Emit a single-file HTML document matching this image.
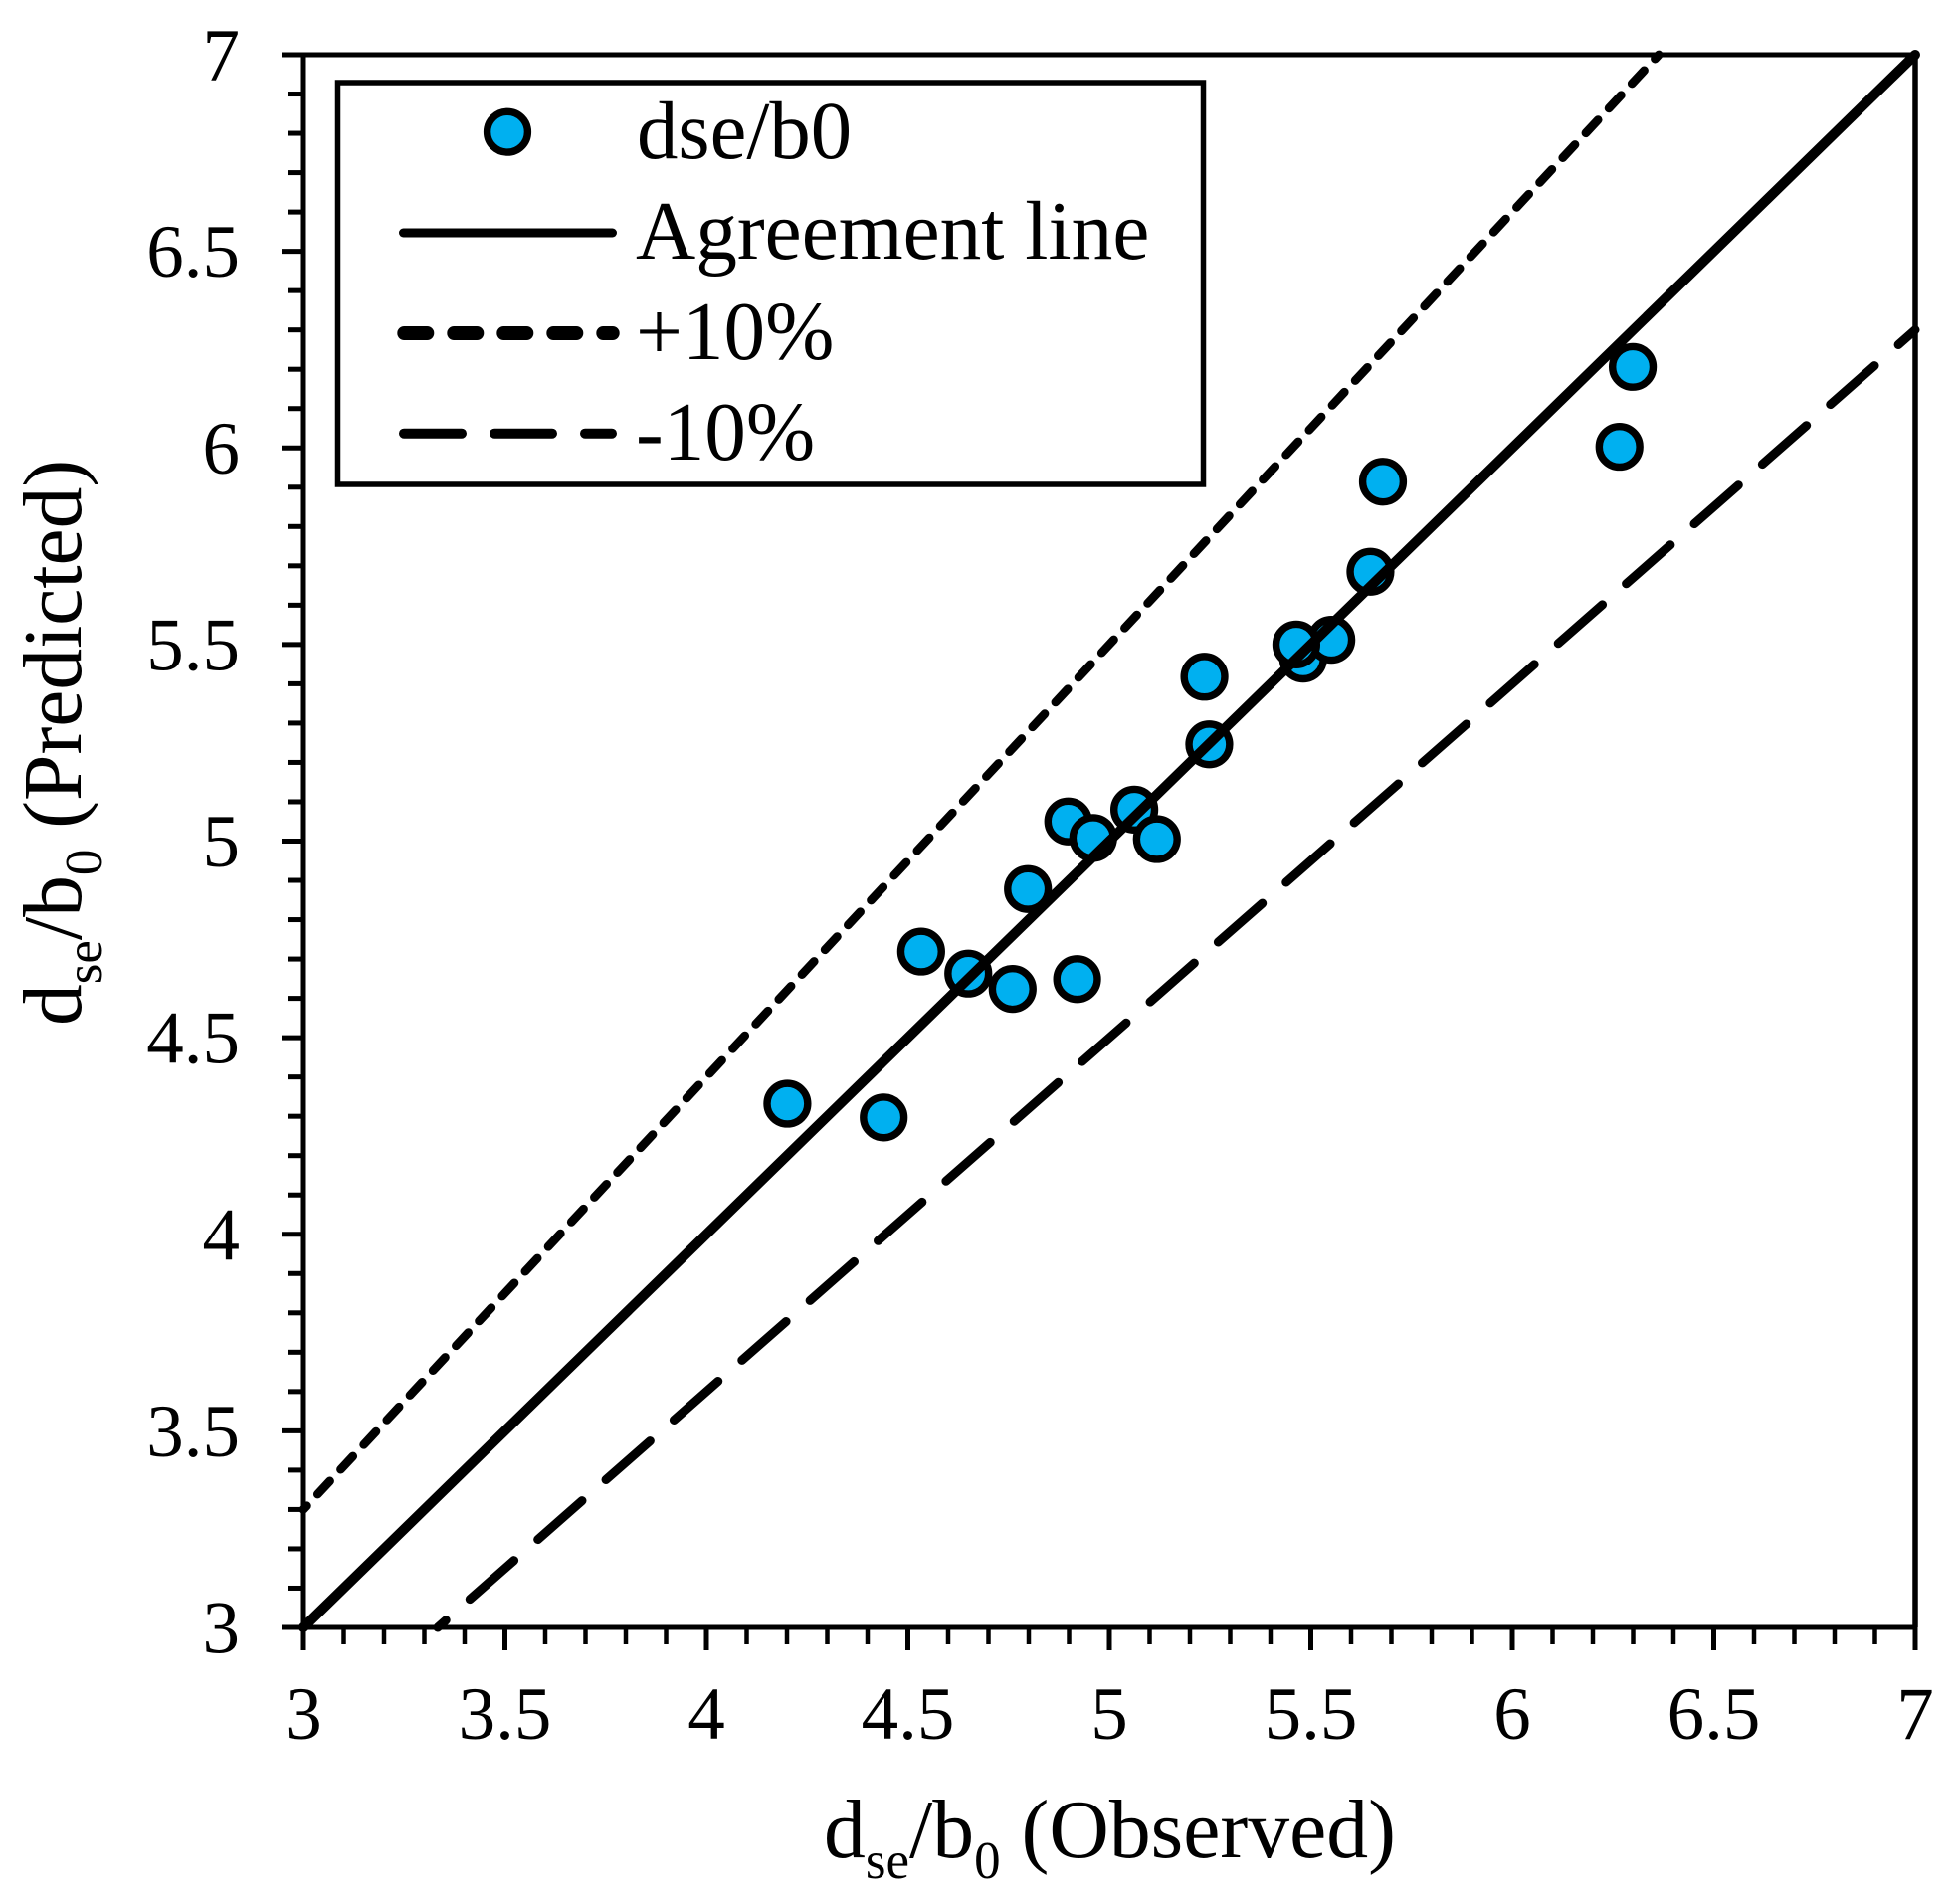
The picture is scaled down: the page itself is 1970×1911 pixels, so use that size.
<!DOCTYPE html>
<html lang="en">
<head>
<meta charset="utf-8">
<title>Observed vs predicted dse/b0</title>
<style>
html,body{margin:0;padding:0;background:#fff;width:1970px;height:1911px;overflow:hidden}
svg{display:block}
text{font-family:"Liberation Serif",serif;fill:#000}
</style>
</head>
<body>
<svg id="chart" xmlns="http://www.w3.org/2000/svg" width="1970" height="1911" viewBox="0 0 1970 1911">
  <rect x="0" y="0" width="1970" height="1911" fill="#fff"/>
  <g id="ticks"></g>
  <g id="tick-labels"></g>
  <g id="markers"></g>
  <g id="lines"></g>
  <g id="frame"></g>

  <text x="828" y="1867" font-size="83.7">d<tspan font-size="53" dy="21">se</tspan><tspan dy="-21">/b</tspan><tspan font-size="53" dy="21">0</tspan><tspan dy="-21"> (Observed)</tspan></text>
  <text transform="translate(81,1031) rotate(-90)" x="0" y="0" font-size="83.5">d<tspan font-size="53" dy="21">se</tspan><tspan dy="-21">/b</tspan><tspan font-size="53" dy="21">0</tspan><tspan dy="-21"> (Predicted)</tspan></text>

  <g>
    <rect x="339.5" y="83" width="870" height="404" fill="#fff" stroke="#000" stroke-width="5.5"/>
    <circle cx="510" cy="132.7" r="20.4" fill="#00B0F0" stroke="#000" stroke-width="7.4"/>
    <text x="640" y="159" font-size="82.8">dse/b0</text>
    <line x1="405.5" y1="234" x2="615.5" y2="234" stroke="#000" stroke-width="9" stroke-linecap="round"/>
    <text x="639" y="260" font-size="83.4">Agreement line</text>
    <line x1="406.3" y1="335" x2="615.7" y2="335" stroke="#000" stroke-width="14" stroke-linecap="round" stroke-dasharray="23 27"/>
    <text x="639" y="361" font-size="83.2">+10%</text>
    <line x1="406" y1="435.7" x2="615" y2="435.7" stroke="#000" stroke-width="10" stroke-linecap="round" stroke-dasharray="58 33"/>
    <text x="639" y="462" font-size="83.2">-10%</text>
  </g>
</svg>
<script>
const xTickValues = [3, 3.5, 4, 4.5, 5, 5.5, 6, 6.5, 7];
const xTickLabels = ['3', '3.5', '4', '4.5', '5', '5.5', '6', '6.5', '7'];
const yTickValues = [3, 3.5, 4, 4.5, 5, 5.5, 6, 6.5, 7];
const yTickLabels = ['3', '3.5', '4', '4.5', '5', '5.5', '6', '6.5', '7'];
const observed = [4.201, 4.44, 4.533, 4.65, 4.76, 4.798, 4.898, 4.92, 4.96, 5.062, 5.118, 5.236, 5.248, 5.481, 5.551, 5.464, 5.648, 5.679, 6.266, 6.299];
const predicted = [4.332, 4.297, 4.719, 4.663, 4.624, 4.878, 5.05, 4.649, 5.008, 5.08, 5.005, 5.418, 5.246, 5.464, 5.512, 5.5, 5.685, 5.914, 6.003, 6.206];
const agreementObserved = [3, 7];
const agreementPredicted = [3, 7];
const plusObserved = [3, 6.3636];
const plusPredicted = [3.3, 7];
const minusObserved = [3.3333, 7];
const minusPredicted = [3, 6.3];

const NS = 'http://www.w3.org/2000/svg';
const plotLeft = 305, plotRight = 1925, plotTop = 55, plotBottom = 1636;
const axisMin = 3, axisMax = 7;
function sx(v) { return plotLeft + (v - axisMin) / (axisMax - axisMin) * (plotRight - plotLeft); }
function sy(v) { return plotBottom - (v - axisMin) / (axisMax - axisMin) * (plotBottom - plotTop); }
function make(tag, attrs, parent) {
  const el = document.createElementNS(NS, tag);
  for (const k in attrs) el.setAttribute(k, attrs[k]);
  parent.appendChild(el);
  return el;
}

const tickGroup = document.getElementById('ticks');
const labelGroup = document.getElementById('tick-labels');
const markerGroup = document.getElementById('markers');
const lineGroup = document.getElementById('lines');
const frameGroup = document.getElementById('frame');

/* minor ticks every 0.1 */
for (let i = 0; i <= 40; i++) {
  if (i % 5 === 0) continue;
  const v = axisMin + i / 10;
  const mx = make('line', {x1: sx(v), y1: plotBottom, x2: sx(v), y2: 1653, stroke: '#000', 'stroke-width': 4.5}, tickGroup);
  
  
  const my = make('line', {x1: 289, y1: sy(v), x2: plotLeft, y2: sy(v), stroke: '#000', 'stroke-width': 5}, tickGroup);
  
  
}

/* major ticks and labels */
xTickValues.forEach(function (v, i) {
  const t = make('line', {x1: sx(v), y1: plotBottom, x2: sx(v), y2: 1659, stroke: '#000', 'stroke-width': 5}, tickGroup);
  
  
  const l = make('text', {x: sx(v), y: 1748, 'font-size': 75, 'text-anchor': 'middle'}, labelGroup);
  l.textContent = xTickLabels[i];
  
  
});
yTickValues.forEach(function (v, i) {
  const t = make('line', {x1: 283, y1: sy(v), x2: plotLeft, y2: sy(v), stroke: '#000', 'stroke-width': 5}, tickGroup);
  
  
  const l = make('text', {x: 241, y: sy(v) + 25.5, 'font-size': 75, 'text-anchor': 'end'}, labelGroup);
  l.textContent = yTickLabels[i];
  
  
});

/* data points sit under the lines */
observed.forEach(function (v, i) {
  const c = make('circle', {cx: sx(v), cy: sy(predicted[i]), r: 20.4, fill: '#00B0F0', stroke: '#000', 'stroke-width': 7.4}, markerGroup);
  
  
});

/* reference lines */
const agreementLine = make('line', {x1: sx(agreementObserved[0]), y1: sy(agreementPredicted[0]), x2: sx(agreementObserved[1]), y2: sy(agreementPredicted[1]), stroke: '#000', 'stroke-width': 10, 'stroke-linecap': 'round'}, lineGroup);


const plusLine = make('line', {x1: sx(plusObserved[0]), y1: sy(plusPredicted[0]), x2: sx(plusObserved[1]), y2: sy(plusPredicted[1]), stroke: '#000', 'stroke-width': 8.7, 'stroke-linecap': 'round', 'stroke-dasharray': '18 16', 'stroke-dashoffset': 13}, lineGroup);


const minusLine = make('line', {x1: sx(minusObserved[0]), y1: sy(minusPredicted[0]), x2: sx(minusObserved[1]), y2: sy(minusPredicted[1]), stroke: '#000', 'stroke-width': 9, 'stroke-linecap': 'round', 'stroke-dasharray': '59 32', 'stroke-dashoffset': 48}, lineGroup);



/* frame */
const leftAxis = make('line', {x1: plotLeft, y1: plotTop, x2: plotLeft, y2: plotBottom, stroke: '#000', 'stroke-width': 5}, frameGroup);


const bottomAxis = make('line', {x1: plotLeft, y1: plotBottom, x2: plotRight + 2.5, y2: plotBottom, stroke: '#000', 'stroke-width': 5}, frameGroup);


const rightAxis = make('line', {x1: plotRight, y1: plotTop, x2: plotRight, y2: plotBottom, stroke: '#000', 'stroke-width': 5.5}, frameGroup);


const topAxis = make('line', {x1: plotLeft, y1: plotTop, x2: plotRight + 2.5, y2: plotTop, stroke: '#000', 'stroke-width': 5}, frameGroup);


</script>
</body>
</html>
